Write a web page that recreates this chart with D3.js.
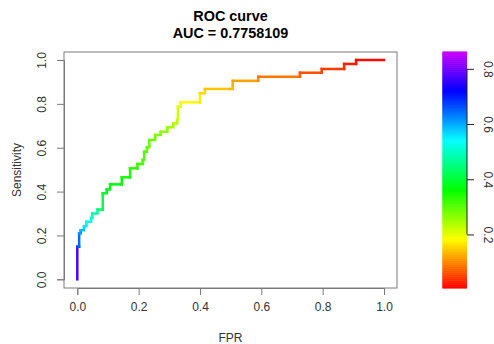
<!DOCTYPE html>
<html>
<head>
<meta charset="utf-8">
<script src="https://cdn.jsdelivr.net/npm/d3@7"></script>
<style>
  body { margin: 0; background: #fff; }
  text { font-family: "Liberation Sans", Arial, sans-serif; }
</style>
</head>
<body>
<div id="chart"></div>
<script>
// ROC curve vertices
var fpr = [0, 0, 0.006, 0.006, 0.011, 0.022, 0.030, 0.045, 0.049, 0.066,
  0.083, 0.083, 0.096, 0.107, 0.145, 0.145, 0.172, 0.172, 0.196, 0.196,
  0.213, 0.213, 0.218, 0.227, 0.235, 0.254, 0.272, 0.294, 0.313, 0.326,
  0.328, 0.337, 0.400, 0.400, 0.416, 0.498, 0.507, 0.507, 0.590, 0.590,
  0.726, 0.726, 0.797, 0.797, 0.870, 0.870, 0.909, 0.909, 1.0];
var tpr = [0, 0.148, 0.15, 0.209, 0.224, 0.242, 0.262, 0.280, 0.300, 0.318,
  0.318, 0.392, 0.41, 0.433, 0.433, 0.465, 0.465, 0.506, 0.506, 0.526,
  0.526, 0.544, 0.582, 0.602, 0.635, 0.658, 0.673, 0.693, 0.711, 0.73,
  0.787, 0.807, 0.807, 0.848, 0.868, 0.868, 0.886, 0.905, 0.905, 0.924,
  0.924, 0.942, 0.942, 0.959, 0.959, 0.982, 0.982, 1.0, 1.0];
// cutoff at each vertex (estimated from the colour)
var cutoff = [0.862, 0.689, 0.66, 0.63, 0.60, 0.57, 0.541, 0.511, 0.496, 0.451,
  0.437, 0.392, 0.377, 0.368, 0.362, 0.355, 0.347, 0.34, 0.332, 0.325,
  0.317, 0.31, 0.303, 0.295, 0.288, 0.279, 0.267, 0.258, 0.243, 0.228,
  0.207, 0.184, 0.178, 0.16, 0.148, 0.139, 0.13, 0.124, 0.112, 0.10,
  0.079, 0.065, 0.057, 0.05, 0.04, 0.029, 0.022, 0.017, 0.005];

var axisTicks = [0, 0.2, 0.4, 0.6, 0.8, 1.0];
var barTicks = [0.2, 0.4, 0.6, 0.8];
var titleText = "ROC curve";
var aucText = "AUC = 0.7758109";

var svgWidth = 494;
var svgHeight = 344;

var box = { left: 64, top: 52, right: 397, bottom: 288 };

var svg = d3.select("#chart")
  .append("svg")
  .attr("width", svgWidth)
  .attr("height", svgHeight);

var xScale = d3.scaleLinear().domain([0, 1]).range([77.3, 384]);
var yScale = d3.scaleLinear().domain([0, 1]).range([279.3, 60]);

var lo = d3.min(cutoff), hi = d3.max(cutoff);
function cutColor(v) {
  var t = (v - lo) / (hi - lo);
  return d3.hsl(t * 288, 1, 0.5).toString();
}

// plot box
svg.append("rect")
  .attr("x", box.left)
  .attr("y", box.top)
  .attr("width", box.right - box.left)
  .attr("height", box.bottom - box.top)
  .attr("fill", "none")
  .attr("stroke", "#7a7a7a")
  .attr("stroke-width", 1);

// x axis
var xAxis = svg.append("g")
  .attr("transform", `translate(0, ${box.bottom})`)
  .call(d3.axisBottom(xScale).tickValues(axisTicks).tickFormat(d3.format(".1f")).tickSize(7).tickPadding(7));
xAxis.select(".domain").attr("stroke", "#7a7a7a");
xAxis.selectAll(".tick line").attr("stroke", "#7a7a7a");
xAxis.selectAll("text").attr("font-size", 12).attr("fill", "#333")
  .style("font-family", "Liberation Sans, Arial, sans-serif");

// y axis
var yAxis = svg.append("g")
  .attr("transform", `translate(${box.left}, 0)`)
  .call(d3.axisLeft(yScale).tickValues(axisTicks).tickFormat(d3.format(".1f")).tickSize(7).tickPadding(0));
yAxis.select(".domain").attr("stroke", "#7a7a7a");
yAxis.selectAll(".tick line").attr("stroke", "#7a7a7a");
yAxis.selectAll("text")
  .attr("font-size", 12)
  .attr("fill", "#333")
  .attr("x", 0).attr("dy", 0)
  .attr("text-anchor", "middle")
  .attr("transform", "translate(-22,0) rotate(-90)")
  .attr("dominant-baseline", "central")
  .style("font-family", "Liberation Sans, Arial, sans-serif");

// titles
svg.append("text")
  .attr("x", (box.left + box.right) / 2)
  .attr("y", 21)
  .attr("text-anchor", "middle")
  .attr("font-size", 14.4)
  .attr("font-weight", "bold")
  .text(titleText);
svg.append("text")
  .attr("x", (box.left + box.right) / 2)
  .attr("y", 38)
  .attr("text-anchor", "middle")
  .attr("font-size", 14.4)
  .attr("font-weight", "bold")
  .text(aucText);

svg.append("text")
  .attr("x", (box.left + box.right) / 2)
  .attr("y", 342)
  .attr("text-anchor", "middle")
  .attr("font-size", 12)
  .attr("fill", "#333")
  .text("FPR");
svg.append("text")
  .attr("transform", `translate(21, ${(box.top + box.bottom) / 2}) rotate(-90)`)
  .attr("text-anchor", "middle")
  .attr("font-size", 12)
  .attr("fill", "#333")
  .text("Sensitivity");

// curve drawn as a staircase, each step coloured by cutoff
var segs = d3.range(fpr.length - 1);
var curveG = svg.append("g");
segs.forEach(function(i) {
  var c = cutColor((cutoff[i] + cutoff[i + 1]) / 2);
  var x1 = xScale(fpr[i]), y1 = yScale(tpr[i]);
  var x2 = xScale(fpr[i + 1]), y2 = yScale(tpr[i + 1]);
  curveG.append("path")
    .attr("d", `M${x1},${y1}L${x2},${y1}L${x2},${y2}`)
    .attr("fill", "none")
    .attr("stroke", c)
    .attr("stroke-width", 2.5)
    .attr("stroke-linecap", "square")
    .attr("stroke-linejoin", "miter");
});

// colour bar
var barScale = d3.scaleLinear().domain([lo, hi]).range([288.3, 51.7]);
var nBar = 120;
var barSteps = d3.range(nBar).map(k => lo + (hi - lo) * k / nBar);
var stepH = (barScale(lo) - barScale(hi)) / nBar;
svg.append("g")
  .selectAll("rect")
  .data(barSteps)
  .enter()
  .append("rect")
  .attr("x", 442.3)
  .attr("width", 24.7)
  .attr("y", d => barScale(d) - stepH - 0.3)
  .attr("height", stepH + 0.6)
  .attr("fill", d => cutColor(d + (hi - lo) / nBar / 2));

var barAxis = svg.append("g")
  .attr("transform", "translate(467, 0)")
  .call(d3.axisRight(barScale).tickValues(barTicks).tickFormat(d3.format(".1f")).tickSize(7).tickPadding(0));
barAxis.select(".domain").remove();
barAxis.append("line")
  .attr("x1", 0).attr("x2", 0)
  .attr("y1", barScale(barTicks[0]))
  .attr("y2", barScale(barTicks[barTicks.length - 1]))
  .attr("stroke", "#222");
barAxis.selectAll(".tick line").attr("stroke", "#222");
barAxis.selectAll("text")
  .attr("font-size", 12)
  .attr("fill", "#333")
  .attr("x", 0).attr("dy", 0)
  .attr("text-anchor", "middle")
  .attr("dominant-baseline", "central")
  .attr("transform", "translate(21,0) rotate(90)")
  .style("font-family", "Liberation Sans, Arial, sans-serif");
</script>
</body>
</html>
